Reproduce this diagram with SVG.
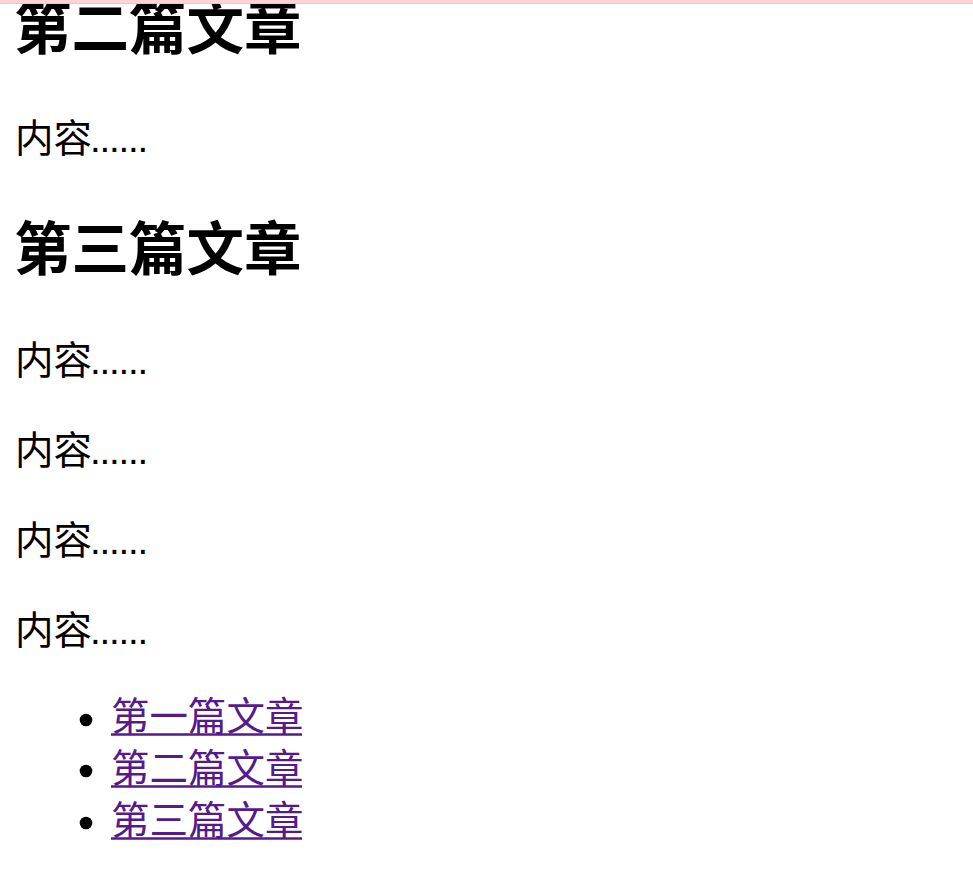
<svg xmlns="http://www.w3.org/2000/svg" width="973" height="883" viewBox="0 0 973 883">
<style>
.h{font-family:"Noto Sans CJK SC","Noto Sans",sans-serif;font-weight:bold;font-size:57.5px;fill:#000}
.p{font-family:"Noto Sans CJK SC","Noto Sans",sans-serif;font-size:38.5px;fill:#000}
.d{font-family:"Liberation Sans",sans-serif;letter-spacing:-1.2px}
.a{font-family:"Noto Sans CJK SC","Noto Sans",sans-serif;font-size:38.5px;fill:#551a8b}
.u{stroke:#551a8b;stroke-width:2.5}
</style>
<rect width="973" height="883" fill="#ffffff"/>
<g id="content">
<text class="h" x="14" y="49">第二篇文章</text>
<text class="p" x="15" y="152">内容<tspan class="d" dx="-2">......</tspan></text>
<text class="h" x="14" y="270">第三篇文章</text>
<text class="p" x="15" y="374">内容<tspan class="d" dx="-2">......</tspan></text>
<text class="p" x="15" y="464">内容<tspan class="d" dx="-2">......</tspan></text>
<text class="p" x="15" y="554">内容<tspan class="d" dx="-2">......</tspan></text>
<text class="p" x="15" y="644">内容<tspan class="d" dx="-2">......</tspan></text>
</g>
<g id="list">
<circle cx="86" cy="720" r="6.3" fill="#000"/>
<circle cx="86" cy="771" r="6.3" fill="#000"/>
<circle cx="86" cy="823" r="6.3" fill="#000"/>
<text class="a" x="111" y="730">第一篇文章</text>
<text class="a" x="111" y="782">第二篇文章</text>
<text class="a" x="111" y="834">第三篇文章</text>
<line class="u" x1="111" y1="734.5" x2="302" y2="734.5"/>
<line class="u" x1="111" y1="786.5" x2="302" y2="786.5"/>
<line class="u" x1="111" y1="838.5" x2="302" y2="838.5"/>
</g>
<rect x="0" y="0" width="973" height="3.5" fill="#fdd5d8"/>
<rect x="0" y="3" width="973" height="1" fill="#f6c2c6"/>
</svg>
